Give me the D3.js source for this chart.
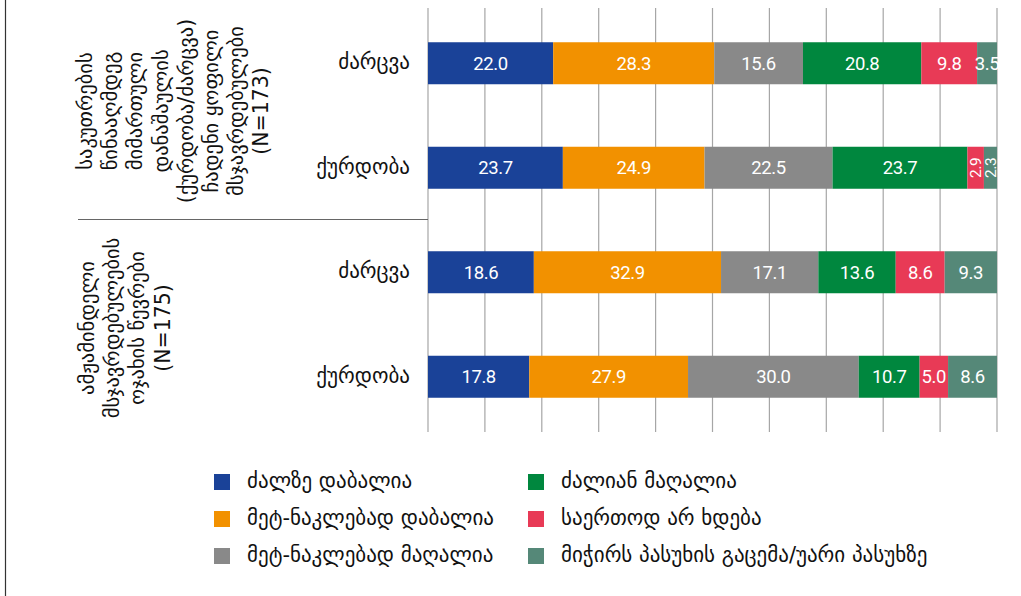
<!DOCTYPE html>
<html>
<head>
<meta charset="utf-8">
<script src="https://cdn.jsdelivr.net/npm/d3@7"></script>
<style>
  body { margin: 0; background: #fff; }
  svg { display: block; font-family: "DejaVu Sans", "Noto Sans", sans-serif; }
  .grid line { stroke: #a6a6a6; stroke-width: 1.2; }
  .val { fill: #fff; font-family: Roboto, "Liberation Sans", sans-serif; font-size: 18.5px; letter-spacing: -0.4px; }
  .cat { fill: #111; font-size: 21px; }
  .grp { fill: #111; font-size: 20.5px; }
  .leg { fill: #111; font-size: 21px; }
</style>
</head>
<body>
<script>
(function(){

    //row labels and groups (top to bottom)
    var categories = ["ძარცვა", "ქურდობა", "ძარცვა", "ქურდობა"];
    var groups = [
        ["საკუთრების", "წინააღმდეგ", "მიმართული", "დანაშაულის", "(ქურდობა/ძარცვა)", "ჩადენი ყოფილი", "მსჯავრდებულები", "(N=173)"],
        ["ამჟამინდელი", "მსჯავრდებულების", "ოჯახის წევრები", "(N=175)"]
    ];
    var seriesNames = ["ძალზე დაბალია", "მეტ-ნაკლებად დაბალია", "მეტ-ნაკლებად მაღალია",
                       "ძალიან მაღალია", "საერთოდ არ ხდება", "მიჭირს პასუხის გაცემა/უარი პასუხზე"];
    //values per row, one per series
    var veryLow   = [22.0, 23.7, 18.6, 17.8];
    var ratherLow = [28.3, 24.9, 32.9, 27.9];
    var ratherHigh= [15.6, 22.5, 17.1, 30.0];
    var veryHigh  = [20.8, 23.7, 13.6, 10.7];
    var never     = [9.8, 2.9, 8.6, 5.0];
    var dontKnow  = [3.5, 2.3, 9.3, 8.6];
    var xTicks = [0, 10, 20, 30, 40, 50, 60, 70, 80, 90, 100];

    var colors = ["#1a4298", "#f29100", "#898989", "#00873e", "#e83a56", "#558878"];

    var width = 1021, height = 596;
    var svg = d3.select("body").append("svg")
        .attr("width", width).attr("height", height);

    var x = d3.scaleLinear().domain([0, 100]).range([428, 997]);
    var y = d3.scaleBand().domain(d3.range(categories.length)).range([11, 429]);
    var barH = 42;

    //outer left border
    svg.append("line").attr("x1", 5.5).attr("x2", 5.5).attr("y1", 0).attr("y2", height)
        .attr("stroke", "#333").attr("stroke-width", 1.2);

    //vertical gridlines
    svg.append("g").attr("class", "grid")
        .selectAll("line").data(xTicks).enter().append("line")
        .attr("x1", function(d){ return x(d); })
        .attr("x2", function(d){ return x(d); })
        .attr("y1", 8).attr("y2", 432);

    //separator between groups
    svg.append("line").attr("x1", 78).attr("x2", 428).attr("y1", 219.5).attr("y2", 219.5)
        .attr("stroke", "#666").attr("stroke-width", 1.2);

    //build stacked data
    var rows = categories.map(function(c, i){
        return [veryLow[i], ratherLow[i], ratherHigh[i], veryHigh[i], never[i], dontKnow[i]];
    });

    var bars = svg.append("g");
    rows.forEach(function(vals, i){
        var cy = y(i) + y.bandwidth() / 2;
        var cum = 0;
        vals.forEach(function(v, s){
            var x0 = x(cum), x1 = x(Math.min(cum + v, 100));
            cum += v;
            bars.append("rect")
                .attr("x", x0).attr("y", cy - barH / 2)
                .attr("width", x1 - x0).attr("height", barH)
                .attr("fill", colors[s]);
            var w = x1 - x0;
            var label = bars.append("text").attr("class", "val")
                .text(v.toFixed(1));
            if (w < 18) {
                //narrow segments get vertical labels
                label.attr("transform", "translate(" + ((x0 + x1) / 2 + 5.5) + "," + cy + ") rotate(-90)")
                    .attr("text-anchor", "middle").style("font-size", "15.5px");
            } else {
                label.attr("x", (x0 + x1) / 2).attr("y", cy + 6.6)
                    .attr("text-anchor", "middle");
            }
        });
        //row label
        svg.append("text").attr("class", "cat")
            .attr("x", 410).attr("y", cy + 6)
            .attr("text-anchor", "end")
            .text(categories[i]);
    });

    //rotated group labels
    var groupPos = [[92, 111], [94, 328]];
    groups.forEach(function(lines, g){
        var t = svg.append("text").attr("class", "grp")
            .attr("transform", "translate(" + groupPos[g][0] + "," + groupPos[g][1] + ") rotate(-90)")
            .attr("text-anchor", "middle");
        lines.forEach(function(l, k){
            t.append("tspan").attr("x", 0).attr("y", k * 25.2).text(l);
        });
    });

    //legend
    var legend = svg.append("g");
    seriesNames.forEach(function(name, s){
        var col = Math.floor(s / 3), row = s % 3;
        var lx = col === 0 ? 214 : 528;
        var ly = 482 + row * 37;
        legend.append("rect").attr("x", lx).attr("y", ly - 8)
            .attr("width", 16).attr("height", 16).attr("fill", colors[s]);
        legend.append("text").attr("class", "leg")
            .attr("x", lx + 33).attr("y", ly + 6).text(name);
    });

})();
</script>
</body>
</html>
